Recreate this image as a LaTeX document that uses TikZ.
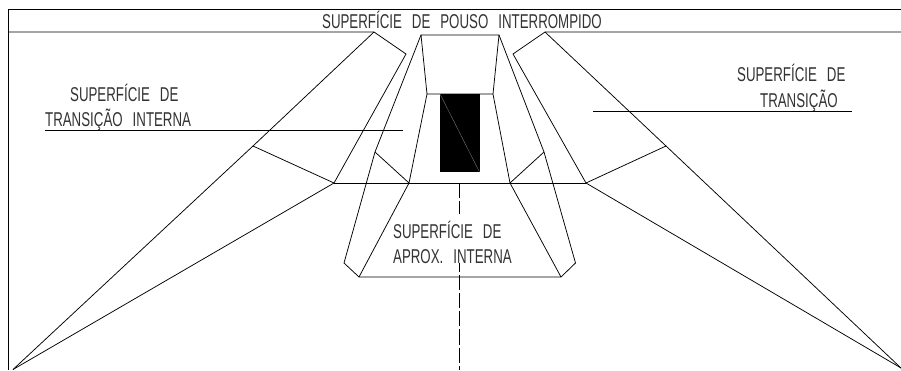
\documentclass[tikz,border=0pt]{standalone}
\usepackage{fontspec}
\setmainfont{Liberation Sans}
\newcommand{\wgap}{\hspace{15pt}}
\tikzset{
  edge/.style={draw=black,line width=0.75pt,line join=miter},
  lbl/.style={inner sep=0pt,anchor=base west,font=\fontsize{20pt}{22pt}\selectfont,text=black!80,xscale=0.665}
}
\begin{document}
\begin{tikzpicture}[x=1pt,y=-1pt]
\useasboundingbox (0,0) rectangle (901,370);
\fill[white] (0,0) rectangle (901,370);
% key points
\coordinate (tl) at (8.5,370);
\coordinate (tc) at (8.5,9);
\coordinate (tr) at (901,9);
\coordinate (hl) at (8.5,32);
\coordinate (hr) at (901,32);
\coordinate (al) at (374,32);
\coordinate (ar) at (545,32);
\coordinate (bl) at (406,54);
\coordinate (br) at (513,54);
\coordinate (cl) at (334,183);
\coordinate (cr) at (586,183);
\coordinate (ml) at (253,146);
\coordinate (mr) at (666,146);
\coordinate (sl) at (13,369.5);
\coordinate (sr) at (901,368);
\coordinate (dl) at (409,183);
\coordinate (dr) at (510,183);
\coordinate (t1) at (421,35);
\coordinate (t2) at (499,35);
\coordinate (t3) at (493,94);
\coordinate (t4) at (427,94);
\coordinate (il) at (375,152);
\coordinate (ir) at (544,152);
\coordinate (el) at (344,263);
\coordinate (er) at (575.5,263);
\coordinate (fl) at (359,277);
\coordinate (fr) at (561,277);
\coordinate (c1) at (459.5,183);
\coordinate (c1b) at (459.5,214);
\coordinate (c2a) at (459.5,263);
\coordinate (c2) at (459.5,370);
\coordinate (ll1) at (45,130);
\coordinate (ll2) at (403,130);
\coordinate (rl1) at (593,111);
\coordinate (rl2) at (852,111);
% frame
\draw[edge] (tl) -- (tc) -- (tr);
\draw[edge] (hl) -- (al) -- (bl) -- (cl) -- (sl);
\draw[edge] (al) -- (ml) -- (sl);
\draw[edge] (ml) -- (cl);
\draw[edge] (hr) -- (ar) -- (br) -- (cr) -- (sr);
\draw[edge] (ar) -- (mr) -- (sr);
\draw[edge] (mr) -- (cr);
\draw[edge] (cl) -- (cr);
% centre
\draw[edge] (t1) -- (t2) -- (t3) -- (t4) -- cycle;
\draw[edge] (t1) -- (il) -- (el) -- (fl) -- (fr) -- (er) -- (ir) -- (t2);
\draw[edge] (il) -- (dl) -- (t4);
\draw[edge] (ir) -- (dr) -- (t3);
\draw[edge] (dl) -- (fl);
\draw[edge] (dr) -- (fr);
% runway
\fill[black] (440,94) rectangle (479.5,172);
\draw[black!55,line width=0.4pt] (440,94) -- (479.5,172);
% centre line
\draw[edge,dash pattern=on 15.3pt off 3pt] (c1) -- (c1b);
\draw[edge,dash pattern=on 15.3pt off 3pt,dash phase=6.8pt] (c2a) -- (c2);
% leaders
\draw[edge] (ll1) -- (ll2);
\draw[edge] (rl1) -- (rl2);
% text
\node[lbl] (title) at (322,28.5) {SUPERFÍCIE\wgap DE\wgap POUSO\wgap INTERROMPIDO};
\node[lbl] (a1) at (70,101.5) {SUPERFÍCIE\wgap DE};
\node[lbl] (a2) at (45,126.5) {TRANSIÇÃO\wgap INTERNA};
\node[lbl] (b1) at (737,81) {SUPERFÍCIE\wgap DE};
\node[lbl] (b2) at (760,107) {TRANSIÇÃO};
\node[lbl] (c1t) at (393,238) {SUPERFÍCIE\wgap DE};
\node[lbl] (c2t) at (393,263) {APROX.\wgap INTERNA};
\end{tikzpicture}
\end{document}
